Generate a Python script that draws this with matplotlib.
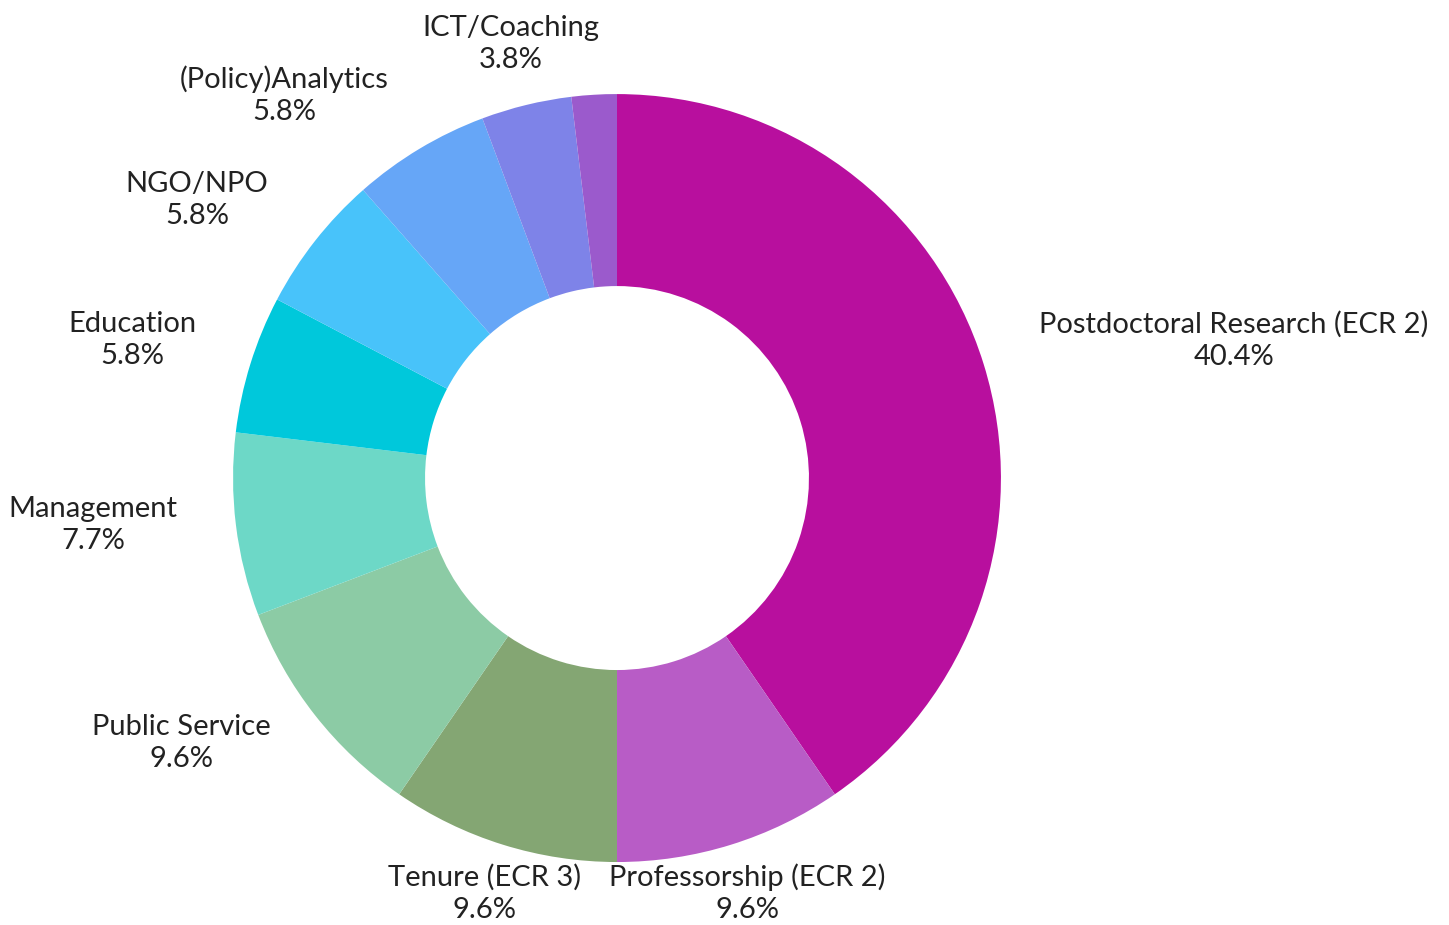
import matplotlib.pyplot as plt

plt.rcParams['font.family'] = ['Lato', 'DejaVu Sans']

categories = ["Postdoctoral Research (ECR 2)", "Professorship (ECR 2)", "Tenure (ECR 3)",
              "Public Service", "Management", "Education", "NGO/NPO",
              "(Policy)Analytics", "ICT/Coaching", ""]
shares = [40.4, 9.6, 9.6, 9.6, 7.7, 5.8, 5.8, 5.8, 3.8, 1.9]
colors = ["#B80F9E", "#B85CC6", "#84A673", "#8CCBA5", "#6DD8C7",
          "#00C8DB", "#48C3FA", "#66A6F7", "#7E83E8", "#9B5ACC"]

# label centres, in units of the outer radius
label_xy = [(1.607, 0.359), (0.339, -1.081), (-0.344, -1.081), (-1.135, -0.690),
            (-1.365, -0.122), (-1.263, 0.359), (-1.094, 0.724), (-0.867, 0.997),
            (-0.276, 1.130), None]

fig = plt.figure(figsize=(14.49, 9.25), dpi=100)
ax = fig.add_axes([0, 0, 1, 1])
ax.pie(shares, colors=colors, startangle=90, counterclock=False, radius=1,
       wedgeprops=dict(width=0.5, linewidth=0))

for name, val, xy in zip(categories, shares, label_xy):
    if xy is None:
        continue
    ax.text(xy[0], xy[1], f"{name}\n{val}%", ha='center', va='center',
            fontsize=21, color='#222222', linespacing=1.3)

ax.set_xlim(-1.607, 2.167)
ax.set_ylim(-1.164, 1.245)
ax.set_aspect('auto')
ax.axis('off')
fig.savefig("out.png", dpi=100, facecolor='white')
